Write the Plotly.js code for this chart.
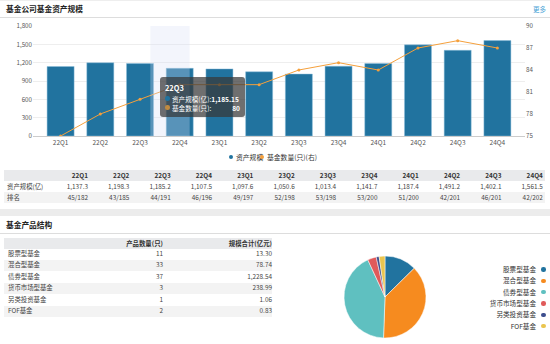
<!DOCTYPE html>
<html><head><meta charset="utf-8">
<script src="https://cdn.plot.ly/plotly-3.0.1.min.js"></script>
<style>
body{margin:0;padding:0;width:550px;height:344px;overflow:hidden;background:#fff;font-family:"Noto Sans CJK SC","Noto Sans",sans-serif;position:relative;}
.abs{position:absolute;white-space:nowrap;}
.hdr{font-size:7.7px;font-weight:bold;color:#222;}
.cell{position:absolute;font-size:6.4px;color:#444;white-space:nowrap;line-height:1;}
</style></head>
<body>
<script>
// ---- data ----
const quarters = ["22Q1","22Q2","22Q3","22Q4","23Q1","23Q2","23Q3","23Q4","24Q1","24Q2","24Q3","24Q4"];
const assetScale = [1137.3,1198.3,1185.2,1107.5,1097.6,1050.6,1013.4,1141.7,1187.4,1491.2,1402.1,1561.5];
const fundCount = [75,78,80,82,82,82,84,85,84,87,88,87];
const rankLabels = ["45/182","43/185","44/191","46/196","49/197","52/198","53/198","53/200","51/200","42/201","46/201","42/202"];
const productTypes = ["股票型基金","混合型基金","债券型基金","货币市场型基金","另类投资基金","FOF基金"];
const productCounts = [11,33,37,3,1,2];
const productScale = ["13.30","78.74","1,228.54","238.99","1.06","0.83"];
const pieColors = ["#21739f","#f68b1f","#5fc0c0","#e05a5a","#3d4e8e","#eac54f"];
</script>

<div class="abs" style="left:0;top:0;width:550px;height:1px;background:#eee"></div>
<div class="abs hdr" style="left:6px;top:3px;">基金公司基金资产规模</div>
<div class="abs" style="left:533px;top:4px;font-size:6.5px;color:#4aa3d6;">更多</div>
<div class="abs" style="left:0;top:16.5px;width:550px;height:1px;background:#ddd"></div>
<div id="chart" class="abs" style="left:0;top:0;width:550px;height:170px;"></div>
<div id="legend1" class="abs" style="left:0;top:152px;width:550px;height:10px;"></div>
<div id="tip" class="abs" style="left:160px;top:77px;width:85px;height:40px;background:rgba(55,55,55,0.72);border-radius:3px;color:#fff;font-size:6.6px;"></div>
<div id="table1"></div>
<div class="abs" style="left:0;top:209px;width:550px;height:7px;background:#ececec"></div>
<div class="abs hdr" style="left:6px;top:219px;">基金产品结构</div>
<div class="abs" style="left:0;top:232.5px;width:550px;height:1px;background:#ddd"></div>
<div id="table2"></div>
<div id="pie" class="abs" style="left:275px;top:240px;width:275px;height:104px;"></div>
<div id="legend2"></div>

<script>
const cfg = {displayModeBar:false, staticPlot:true};
const barColor = "#21739f", lineColor = "#f5a03c";
Plotly.newPlot("chart", [
  {type:"bar", x:quarters, y:assetScale, name:"资产规模", marker:{color:barColor, line:{color:"rgba(140,190,220,0.8)", width:0.6}}, width:0.68, showlegend:false},
  {type:"scatter", mode:"lines+markers", x:quarters, y:fundCount, yaxis:"y2", name:"基金数量(只)(右)", line:{color:lineColor, width:1}, marker:{color:lineColor, size:3}, showlegend:false}
], {
  width:550, height:170, margin:{l:33, r:25, t:26, b:34},
  paper_bgcolor:"rgba(0,0,0,0)", plot_bgcolor:"rgba(0,0,0,0)",
  font:{family:"Noto Sans CJK SC, Noto Sans, sans-serif", size:6.5, color:"#555"},
  xaxis:{type:"category", showline:true, linecolor:"#ccc", linewidth:1, ticks:"", showgrid:false, tickfont:{size:6.5,color:"#555"}},
  yaxis:{range:[0,1800], dtick:300, tickformat:",d", gridcolor:"#eee", gridwidth:1, zeroline:false, showline:false, tickfont:{size:6.2,color:"#555"}},
  yaxis2:{overlaying:"y", side:"right", range:[75,90], dtick:3, showgrid:false, zeroline:false, showline:false, tickfont:{size:6.2,color:"#555"}},
  shapes:[{type:"rect", xref:"x", yref:"paper", x0:2.26, x1:3.25, y0:0, y1:1, fillcolor:"rgba(215,222,245,0.3)", line:{width:0}, layer:"above"}]
}, cfg);

// legend 1
document.getElementById("legend1").innerHTML =
  '<span class="abs" style="left:229px;top:2.5px;width:4px;height:4px;border-radius:50%;background:'+barColor+'"></span>'+
  '<span class="abs" style="left:236px;top:0;font-size:6.8px;color:#333;">资产规模</span>'+
  '<span class="abs" style="left:260px;top:2.5px;width:4px;height:4px;border-radius:50%;background:'+lineColor+'"></span>'+
  '<span class="abs" style="left:267px;top:0;font-size:6.8px;color:#333;">基金数量(只)(右)</span>';

// tooltip
document.getElementById("tip").innerHTML =
  '<div class="abs" style="left:5px;top:5px;font-weight:bold;font-size:7.4px;">'+quarters[2]+'</div>'+
  '<span class="abs" style="left:5px;top:19px;width:4.5px;height:4.5px;border-radius:50%;background:'+barColor+'"></span>'+
  '<div class="abs" style="left:12px;top:16.5px;">资产规模(亿):<b>1,185.15</b></div>'+
  '<span class="abs" style="left:5px;top:28px;width:4.5px;height:4.5px;border-radius:50%;background:#c08a40"></span>'+
  '<div class="abs" style="left:12px;top:25.5px;">基金数量(只):</div>'+
  '<div class="abs" style="right:5px;top:25.5px;font-weight:bold;">'+fundCount[2]+'</div>';

// table 1
(function(){
  let h = '';
  h += '<div class="abs" style="left:4px;top:170px;width:541px;height:10.5px;background:#e9eaec"></div>';
  h += '<div class="abs" style="left:4px;top:192px;width:541px;height:11px;background:#f3f3f3"></div>';
  const rows = [["资产规模(亿)", assetScale.map(v=>v.toLocaleString("en-US",{minimumFractionDigits:1,maximumFractionDigits:1}))], ["排名", rankLabels]];
  quarters.forEach((q,i)=>{
    const r = 88 + 41.35*i;
    h += '<div class="cell" style="left:'+(r-40)+'px;width:40px;text-align:right;top:172.5px;font-weight:bold;color:#333">'+q+'</div>';
  });
  rows.forEach((row,ri)=>{
    const top = 184 + ri*10.8;
    h += '<div class="cell" style="left:7px;top:'+top+'px;">'+row[0]+'</div>';
    row[1].forEach((v,i)=>{
      const r = 88 + 41.35*i;
      h += '<div class="cell" style="left:'+(r-40)+'px;width:40px;text-align:right;top:'+top+'px;">'+v+'</div>';
    });
  });
  document.getElementById("table1").innerHTML = h;
})();

// table 2
(function(){
  let h = '';
  h += '<div class="abs" style="left:4px;top:238px;width:268px;height:10.5px;background:#e9eaec"></div>';
  h += '<div class="cell" style="left:100px;width:63px;text-align:right;top:240.5px;color:#333;font-weight:bold">产品数量(只)</div>';
  h += '<div class="cell" style="left:200px;width:72px;text-align:right;top:240.5px;color:#333;font-weight:bold">规模合计(亿元)</div>';
  productTypes.forEach((t,i)=>{
    const top0 = 248.5 + i*11.4;
    if(i%2===1) h += '<div class="abs" style="left:4px;top:'+top0+'px;width:268px;height:11.4px;background:#f3f3f3"></div>';
    const top = top0 + 2.4;
    h += '<div class="cell" style="left:8px;top:'+top+'px;">'+t+'</div>';
    h += '<div class="cell" style="left:100px;width:63px;text-align:right;top:'+top+'px;">'+productCounts[i]+'</div>';
    h += '<div class="cell" style="left:200px;width:72px;text-align:right;top:'+top+'px;">'+productScale[i]+'</div>';
  });
  document.getElementById("table2").innerHTML = h;
})();

// pie
Plotly.newPlot("pie", [{
  type:"pie", labels:productTypes, values:productCounts, sort:false, direction:"clockwise", rotation:0,
  marker:{colors:pieColors, line:{color:"#fff", width:0.5}}, textinfo:"none", hoverinfo:"none",
  domain:{x:[0.249,0.551], y:[0.058,0.846]}
}], {width:275, height:104, margin:{l:0,r:0,t:0,b:0}, showlegend:false, paper_bgcolor:"rgba(0,0,0,0)"}, cfg);

// legend 2
(function(){
  let h='';
  productTypes.forEach((t,i)=>{
    const y = 266 + i*11.3;
    h += '<div class="cell" style="left:440px;width:96px;text-align:right;top:'+y+'px;font-size:6.6px;color:#333">'+t+'</div>';
    h += '<span class="abs" style="left:541px;top:'+(y+1.3)+'px;width:4.5px;height:4.5px;border-radius:50%;background:'+pieColors[i]+'"></span>';
  });
  document.getElementById("legend2").innerHTML = h;
})();
</script>
</body></html>
